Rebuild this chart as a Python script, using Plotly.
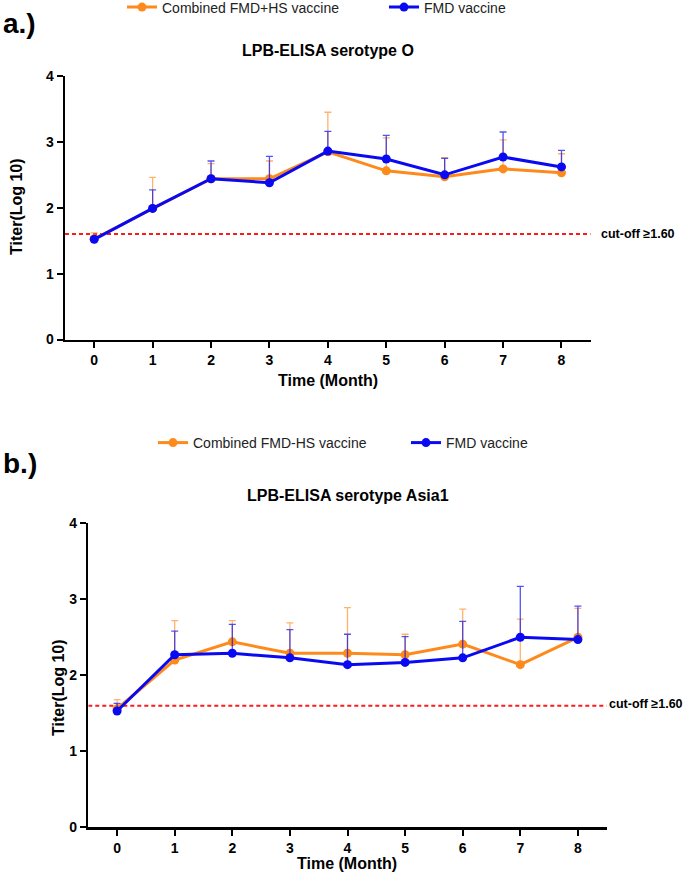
import plotly.graph_objects as go

# ---------------- data ----------------
months = [0, 1, 2, 3, 4, 5, 6, 7, 8]
x_tick_labels = ["0", "1", "2", "3", "4", "5", "6", "7", "8"]
y_ticks = [0, 1, 2, 3, 4]
y_tick_labels = ["0", "1", "2", "3", "4"]
cutoff = 1.60

# Panel a: serotype O
o_combined_mean = [1.53, 1.99, 2.44, 2.44, 2.85, 2.56, 2.47, 2.59, 2.53]
o_combined_sd = [0.09, 0.47, 0.23, 0.27, 0.60, 0.50, 0.29, 0.44, 0.29]
o_fmd_mean = [1.52, 1.99, 2.44, 2.38, 2.86, 2.74, 2.50, 2.77, 2.62]
o_fmd_sd = [0.04, 0.28, 0.27, 0.40, 0.30, 0.36, 0.25, 0.38, 0.25]

# Panel b: serotype Asia1
a_combined_mean = [1.56, 2.20, 2.44, 2.29, 2.29, 2.27, 2.41, 2.14, 2.50]
a_combined_sd = [0.12, 0.52, 0.28, 0.40, 0.60, 0.27, 0.46, 0.60, 0.38]
a_fmd_mean = [1.53, 2.27, 2.29, 2.23, 2.14, 2.17, 2.23, 2.50, 2.47]
a_fmd_sd = [0.10, 0.31, 0.38, 0.37, 0.40, 0.34, 0.48, 0.67, 0.44]

name_comb_a = "Combined FMD+HS vaccine"
name_comb_b = "Combined FMD-HS vaccine"
name_fmd = "FMD vaccine"

ORANGE = "#FF8A1C"
BLUE = "#0A0AF2"
ORANGE_ERR = "rgba(255,138,28,0.65)"
BLUE_ERR = "rgba(10,10,242,0.7)"
FONT = "Liberation Sans, Arial, sans-serif"

W, H = 685, 878


def px_x(p):
    return p / W


def px_y(p):
    return 1 - p / H


def series(x, y, sd, name, color, ecolor, xa, ya, legend):
    return go.Scatter(
        x=x, y=y, name=name, mode="lines+markers",
        xaxis=xa, yaxis=ya, legend=legend,
        line=dict(color=color, width=3),
        marker=dict(color=color, size=9),
        error_y=dict(type="data", symmetric=False, array=sd,
                     arrayminus=[0] * len(sd), color=ecolor,
                     thickness=1.3, width=3.5),
        cliponaxis=False,
    )


fig = go.Figure()
fig.add_trace(series(months, o_combined_mean, o_combined_sd, name_comb_a,
                     ORANGE, ORANGE_ERR, "x", "y", "legend"))
fig.add_trace(series(months, o_fmd_mean, o_fmd_sd, name_fmd,
                     BLUE, BLUE_ERR, "x", "y", "legend"))
fig.add_trace(series(months, a_combined_mean, a_combined_sd, name_comb_b,
                     ORANGE, ORANGE_ERR, "x2", "y2", "legend2"))
fig.add_trace(series(months, a_fmd_mean, a_fmd_sd, name_fmd,
                     BLUE, BLUE_ERR, "x2", "y2", "legend2"))

tickfont = dict(family=FONT, size=14, color="black", weight="bold")
common_x = dict(range=[-0.5, 8.5], tickmode="array", tickvals=months,
                ticktext=x_tick_labels, showline=True, linecolor="black",
                linewidth=2.5, ticks="outside", ticklen=6, tickwidth=2,
                tickcolor="black", showgrid=False, zeroline=False,
                tickfont=tickfont, fixedrange=True)
common_y = dict(range=[0, 4], tickmode="array", tickvals=y_ticks,
                ticktext=y_tick_labels, showline=True, linecolor="black",
                linewidth=2.5, ticks="outside", ticklen=6, tickwidth=2,
                tickcolor="black", showgrid=False, zeroline=False,
                tickfont=tickfont, fixedrange=True)

fig.update_layout(
    width=W, height=H,
    margin=dict(l=0, r=0, t=0, b=0, autoexpand=False),
    paper_bgcolor="white", plot_bgcolor="white",
    font=dict(family=FONT, color="black"),
    xaxis=dict(domain=[px_x(65), px_x(590.7)], anchor="y", **common_x),
    yaxis=dict(domain=[px_y(339.5), px_y(76)], anchor="x", **common_y),
    xaxis2=dict(domain=[px_x(88.3), px_x(606.7)], anchor="y2", **common_x),
    yaxis2=dict(domain=[px_y(827.3), px_y(523.3)], anchor="x2", **common_y),
    legend=dict(orientation="h", x=px_x(122), y=px_y(-8.5), xanchor="left",
                yanchor="top", font=dict(family=FONT, size=14, color="#222"),
                entrywidth=217, bgcolor="rgba(0,0,0,0)", traceorder="normal"),
    legend2=dict(orientation="h", x=px_x(153), y=px_y(427), xanchor="left",
                 yanchor="top", font=dict(family=FONT, size=14, color="#222"),
                 entrywidth=208, bgcolor="rgba(0,0,0,0)", traceorder="normal"),
    showlegend=True,
)

# cut-off lines
for xr, yr in (("x", "y"), ("x2", "y2")):
    fig.add_shape(type="line", xref=xr, yref=yr, x0=-0.5, x1=8.5,
                  y0=cutoff, y1=cutoff,
                  line=dict(color="#FF1A1A", width=2, dash="4px,3px"),
                  layer="below")

bold = lambda s: dict(family=FONT, size=s, color="black", weight="bold")
annots = [
    dict(text="a.)", x=px_x(1), y=px_y(24), xanchor="left", yanchor="middle", font=bold(28)),
    dict(text="b.)", x=px_x(1), y=px_y(463), xanchor="left", yanchor="middle", font=bold(28)),
    dict(text="LPB-ELISA serotype O", x=px_x(327.5), y=px_y(50), xanchor="center", yanchor="middle", font=bold(16)),
    dict(text="LPB-ELISA serotype Asia1", x=px_x(348), y=px_y(495), xanchor="center", yanchor="middle", font=bold(16)),
    dict(text="Time (Month)", x=px_x(327.5), y=px_y(381), xanchor="center", yanchor="middle", font=bold(16)),
    dict(text="Time (Month)", x=px_x(347), y=px_y(863), xanchor="center", yanchor="middle", font=bold(16)),
    dict(text="Titer(Log 10)", x=px_x(16), y=px_y(207), xanchor="center", yanchor="middle", textangle=-90, font=bold(16)),
    dict(text="Titer(Log 10)", x=px_x(58), y=px_y(688), xanchor="center", yanchor="middle", textangle=-90, font=bold(16)),
    dict(text="cut-off \u22651.60", x=px_x(599), y=px_y(234.3), xanchor="left", yanchor="middle", font=bold(12.5)),
    dict(text="cut-off \u22651.60", x=px_x(607), y=px_y(704.3), xanchor="left", yanchor="middle", font=bold(12.5)),
]
for a in annots:
    a.update(xref="paper", yref="paper", showarrow=False)
    fig.add_annotation(**a)

fig.write_html(
    "out.html",
    config={"displayModeBar": False, "staticPlot": True},
    post_script="document.body.style.margin='0';document.body.style.padding='0';"
                "document.body.style.overflow='hidden';",
)
